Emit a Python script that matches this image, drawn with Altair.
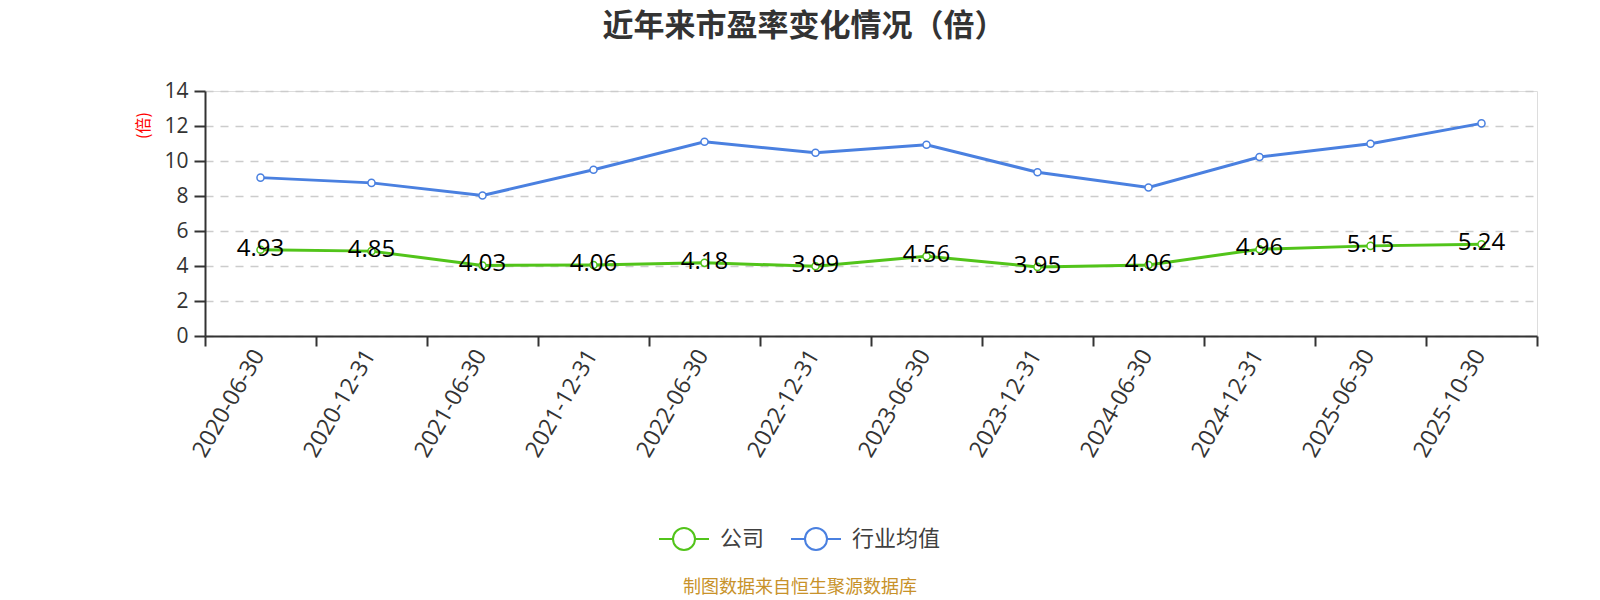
import altair as alt
import pandas as pd

dates = ["2020-06-30", "2020-12-31", "2021-06-30", "2021-12-31", "2022-06-30", "2022-12-31",
         "2023-06-30", "2023-12-31", "2024-06-30", "2024-12-31", "2025-06-30", "2025-10-30"]
company = [4.93, 4.85, 4.03, 4.06, 4.18, 3.99, 4.56, 3.95, 4.06, 4.96, 5.15, 5.24]
industry = [9.05, 8.75, 8.03, 9.50, 11.10, 10.47, 10.93, 9.36, 8.49, 10.23, 10.99, 12.15]
series_names = ["公司", "行业均值"]
colors = ["#52c41a", "#4a80e0"]
footer = "制图数据来自恒生聚源数据库"
FONT = "Noto Sans CJK SC"
NUMFONT = "Open Sans"

rows = []
for d, c, i in zip(dates, company, industry):
    rows.append({"date": d, "series": series_names[0], "value": c})
    rows.append({"date": d, "series": series_names[1], "value": i})
df = pd.DataFrame(rows)

legend_path = ("M-1,0L-0.44,0M0.44,0L1,0"
               "M0.44,0A0.44,0.44 0 1,1 -0.44,0A0.44,0.44 0 1,1 0.44,0")

x = alt.X("date:N", sort=dates, title=None,
          scale=alt.Scale(type="band", paddingInner=0, paddingOuter=0),
          axis=alt.Axis(labelAngle=300, labelAlign="right", labelBaseline="middle",
                        labelFontSize=23, labelColor="#333333", labelFont=NUMFONT,
                        labelPadding=5, labelOffset=-2, tickBand="extent", tickSize=10,
                        tickColor="#333333", domainColor="#333333", domainWidth=2,
                        tickWidth=2, grid=False))
y = alt.Y("value:Q", title="(倍)",
          scale=alt.Scale(domain=[0, 14], nice=False),
          axis=alt.Axis(values=[0, 2, 4, 6, 8, 10, 12, 14], labelFontSize=21,
                        labelColor="#333333", labelFont=NUMFONT, tickSize=11,
                        tickColor="#333333", domainColor="#333333", domainWidth=2,
                        tickWidth=2, labelPadding=6,
                        grid=True, gridDash=[8, 7], gridColor="#cccccc", gridWidth=1.5,
                        titleColor="#ff0000", titleFontSize=16, titleFont=FONT,
                        titleFontWeight="normal", titleAngle=270, titleX=-62, titleY=34,
                        titleAlign="center", titleBaseline="middle"))
color = alt.Color("series:N",
                  scale=alt.Scale(domain=series_names, range=colors),
                  legend=alt.Legend(title=None, orient="none", direction="horizontal",
                                    legendX=453, legendY=422, symbolType=legend_path,
                                    symbolSize=2500, symbolStrokeWidth=2,
                                    symbolFillColor="#ffffff", labelFontSize=22,
                                    labelColor="#404040", labelFont=FONT,
                                    columnPadding=22, labelOffset=10))

base = alt.Chart(df)
lines = base.mark_line(strokeWidth=3).encode(x=x, y=y, color=color)
points = base.mark_point(filled=True, fill="white", size=50, strokeWidth=1.5, opacity=1).encode(
    x=x, y=y, stroke=alt.Stroke("series:N", scale=alt.Scale(domain=series_names, range=colors),
                                legend=None))
labels = base.transform_filter(alt.datum.series == series_names[0]).mark_text(
    fontSize=24, font=NUMFONT, color="#000000", baseline="middle", align="center", dy=-1
).encode(x=x, y=y, text=alt.Text("value:Q", format=".2f"))

foot = alt.Chart(pd.DataFrame({"t": [footer]})).mark_text(
    fontSize=18, font=FONT, color="#c8922a", align="center", baseline="middle"
).encode(x=alt.value(595), y=alt.value(497), text="t:N")

chart = alt.layer(lines, points, labels, foot).properties(
    width=1332, height=245,
    title=alt.TitleParams("近年来市盈率变化情况（倍）", fontSize=31, fontWeight="bold",
                          color="#333333", font=FONT, anchor="middle", dx=-67, offset=37),
    padding={"left": 197, "top": 83, "right": 55, "bottom": 264},
    autosize=alt.AutoSizeParams(type="none"),
).configure_view(stroke=None).configure(background="white")

chart.save("out.html", embed_options={"renderer": "svg", "actions": False})
